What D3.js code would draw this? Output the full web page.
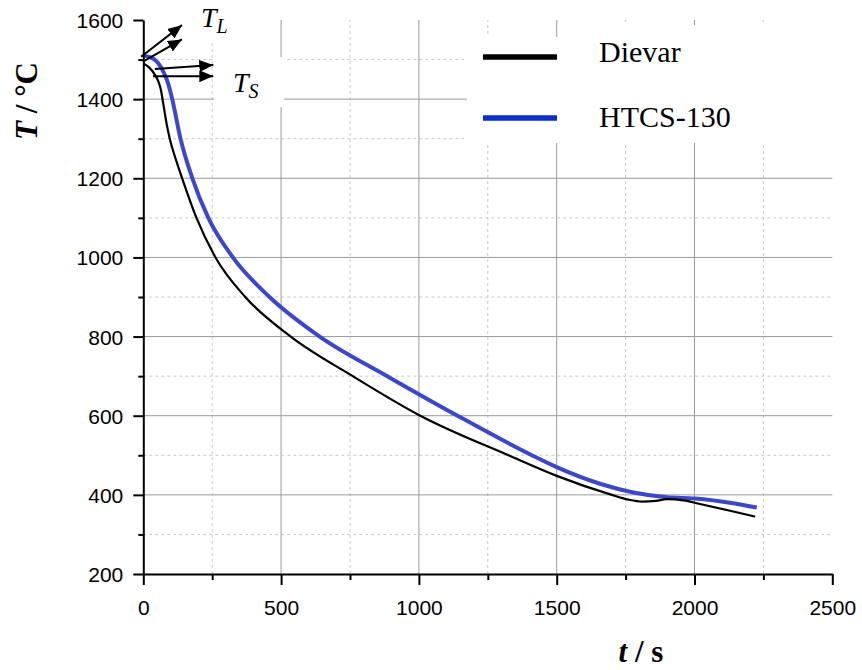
<!DOCTYPE html>
<html><head><meta charset="utf-8">
<script src="https://cdn.jsdelivr.net/npm/d3@7"></script>
<style>body{margin:0;background:#fff}svg{display:block}</style>
</head><body>
<svg id="chart" width="862" height="670"></svg>
<script>
// ---- data ----
const seriesNames = ["Dievar", "HTCS-130"];
const dievarTime = [0, 20, 40, 55, 63, 73, 84, 96, 117, 141, 193, 262, 370, 535, 760, 1005, 1325, 1500, 1700, 1760, 1810, 1860, 1900, 1960, 2020, 2141, 2220];
const dievarTemp = [1490, 1481, 1464, 1444, 1426, 1386, 1340, 1300, 1250, 1200, 1100, 1000, 900, 800, 700, 600, 500, 448, 400, 388, 383, 385, 389, 386, 377, 358, 345];
const htcsTime = [0, 30, 55, 75, 90, 105, 135, 178, 236, 325, 458, 640, 885, 1140, 1410, 1500, 1657, 1778, 1900, 2000, 2141, 2226];
const htcsTemp = [1510, 1505, 1490, 1466, 1440, 1400, 1300, 1200, 1100, 1000, 900, 800, 700, 600, 500, 470, 428, 406, 394, 391, 379, 368];
const xMajorTicks = [0, 500, 1000, 1500, 2000, 2500];
const xMinorTicks = [250, 750, 1250, 1750, 2250];
const yMajorTicks = [200, 400, 600, 800, 1000, 1200, 1400, 1600];
const yMinorTicks = [300, 500, 700, 900, 1100, 1300, 1500];
// annotation arrows [t0, T0, t1, T1]
const tlArrows = [[-8, 1507, 140, 1587], [-1, 1495, 140, 1551]];
const tsArrows = [[42, 1476, 254, 1486], [35, 1458, 254, 1458]];

// ---- layout ----
const svg = d3.select("#chart");
const x = d3.scaleLinear().domain([0, 2500]).range([143.3, 832.3]);
const y = d3.scaleLinear().domain([200, 1600]).range([574, 20]);
const x0 = x.range()[0], x1 = x.range()[1], y0 = y.range()[0], y1 = y.range()[1];

// ---- grid ----
const grid = svg.append("g");
grid.selectAll(".vmin").data(xMinorTicks).join("line")
  .attr("x1", d => x(d)).attr("x2", d => x(d)).attr("y1", y0).attr("y2", y1)
  .attr("stroke", "#c8c8c8").attr("stroke-width", 1).attr("stroke-dasharray", "3,3");
grid.selectAll(".hmin").data(yMinorTicks).join("line")
  .attr("y1", d => y(d)).attr("y2", d => y(d)).attr("x1", x0).attr("x2", x1)
  .attr("stroke", "#c8c8c8").attr("stroke-width", 1).attr("stroke-dasharray", "3,3");
grid.selectAll(".vmaj").data(xMajorTicks.filter(d => d > 0 && d < 2500)).join("line")
  .attr("x1", d => x(d)).attr("x2", d => x(d)).attr("y1", y0).attr("y2", y1)
  .attr("stroke", "#9a9a9a").attr("stroke-width", 1);
grid.selectAll(".hmaj").data(yMajorTicks.filter(d => d > 200 && d < 1600)).join("line")
  .attr("y1", d => y(d)).attr("y2", d => y(d)).attr("x1", x0).attr("x2", x1)
  .attr("stroke", "#9a9a9a").attr("stroke-width", 1);

// white label/legend backgrounds masking the grid
const masks = [[195, 18, 77, 22], [214, 57, 70, 50], [467, 37, 125, 106], [590, 25, 245, 118]];
svg.append("g").selectAll("rect").data(masks).join("rect")
  .attr("x", d => d[0]).attr("y", d => d[1]).attr("width", d => d[2]).attr("height", d => d[3])
  .attr("fill", "#fff");

// ---- curves ----
const line = d3.line().x(d => x(d[0])).y(d => y(d[1])).curve(d3.curveMonotoneX);
const htcs = htcsTime.map((t, i) => [t, htcsTemp[i]]);
const dievar = dievarTime.map((t, i) => [t, dievarTemp[i]]);
svg.append("path").datum(htcs).attr("d", line).attr("fill", "none")
  .attr("stroke", "#3d47c9").attr("stroke-width", 4).attr("stroke-linejoin", "round");
svg.append("path").datum(dievar).attr("d", line).attr("fill", "none")
  .attr("stroke", "#000").attr("stroke-width", 2.2).attr("stroke-linejoin", "round");

// ---- axes ----
const fontSans = "'Liberation Sans', Arial, sans-serif";
const fontSerif = "'Liberation Serif', 'Times New Roman', serif";
const xAxis = svg.append("g").attr("transform", `translate(0,${y0})`)
  .call(d3.axisBottom(x).tickValues(xMajorTicks).tickSize(11).tickSizeOuter(0).tickPadding(10).tickFormat(d3.format("d")));
const xAxisMinor = svg.append("g").attr("transform", `translate(0,${y0})`)
  .call(d3.axisBottom(x).tickValues(xMinorTicks).tickSize(6).tickSizeOuter(0).tickFormat(""));
const yAxis = svg.append("g").attr("transform", `translate(${x0},0)`)
  .call(d3.axisLeft(y).tickValues(yMajorTicks).tickSize(10).tickSizeOuter(0).tickPadding(10).tickFormat(d3.format("d")));
const yAxisMinor = svg.append("g").attr("transform", `translate(${x0},0)`)
  .call(d3.axisLeft(y).tickValues(yMinorTicks).tickSize(5).tickSizeOuter(0).tickFormat(""));
[xAxis, xAxisMinor, yAxis, yAxisMinor].forEach(g => {
  g.select(".domain").attr("stroke", "#000").attr("stroke-width", 2);
  g.selectAll(".tick line").attr("stroke", "#000").attr("stroke-width", 2);
  g.selectAll(".tick text").attr("fill", "#000").style("font-family", fontSans).style("font-size", "21px");
});
xAxisMinor.select(".domain").remove();
yAxisMinor.select(".domain").remove();
xAxis.selectAll(".tick text").attr("dy", "0.95em");
yAxis.selectAll(".tick text").attr("dy", "0.36em");

// axis titles
const yTitle = svg.append("text").attr("transform", "translate(37,101) rotate(-90)")
  .attr("text-anchor", "middle").style("font-family", fontSerif).style("font-size", "31px").style("font-weight", "bold");
yTitle.append("tspan").style("font-style", "italic").text("T");
yTitle.append("tspan").text(" / °C");
const xTitle = svg.append("text").attr("x", 641).attr("y", 662)
  .attr("text-anchor", "middle").style("font-family", fontSerif).style("font-size", "31px").style("font-weight", "bold");
xTitle.append("tspan").style("font-style", "italic").text("t");
xTitle.append("tspan").text(" / s");

// ---- annotations ----
svg.append("defs").append("marker").attr("id", "ah")
  .attr("viewBox", "0 0 14 12").attr("refX", 14).attr("refY", 6)
  .attr("markerWidth", 14).attr("markerHeight", 12).attr("markerUnits", "userSpaceOnUse")
  .attr("orient", "auto")
  .append("path").attr("d", "M0,0 L14,6 L0,12 Z").attr("fill", "#000");
svg.append("g").selectAll("line").data(tlArrows.concat(tsArrows)).join("line")
  .attr("x1", d => x(d[0])).attr("y1", d => y(d[1])).attr("x2", d => x(d[2])).attr("y2", d => y(d[3]))
  .attr("stroke", "#000").attr("stroke-width", 2).attr("marker-end", "url(#ah)");

function subLabel(px, py, main, sub) {
  const t = svg.append("text").attr("x", px).attr("y", py)
    .style("font-family", fontSerif).style("font-style", "italic").style("font-size", "28px");
  t.append("tspan").text(main);
  t.append("tspan").attr("dy", 6).style("font-size", "20px").text(sub);
}
subLabel(201, 27, "T", "L");
subLabel(233, 92, "T", "S");

// ---- legend ----
const legendColors = ["#000", "#0b2fcc"];
const legendY = [57, 118];
const legendBaseline = [62, 127];
const lg = svg.append("g");
seriesNames.forEach((name, i) => {
  lg.append("line").attr("x1", 483).attr("x2", 557).attr("y1", legendY[i]).attr("y2", legendY[i])
    .attr("stroke", legendColors[i]).attr("stroke-width", 5.5);
  lg.append("text").attr("x", 599).attr("y", legendBaseline[i])
    .style("font-family", fontSerif).style("font-size", "30px").attr("fill", "#000").text(name);
});
</script>
</body></html>
